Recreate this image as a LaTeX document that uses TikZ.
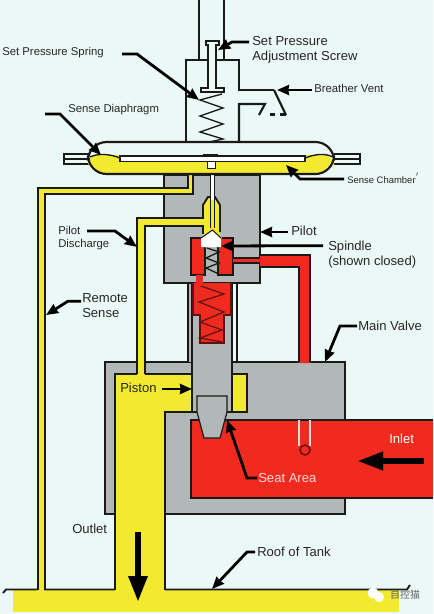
\documentclass[tikz,border=0pt]{standalone}
\usepackage{fontspec}
\setmainfont{Liberation Sans}
\newfontfamily\cjkfont{Noto Sans CJK SC}
\usetikzlibrary{arrows.meta, calc}
\definecolor{tankbg}{HTML}{EBF9F6}
\definecolor{sensey}{HTML}{F2EA2E}
\definecolor{valvegray}{HTML}{B2B8B8}
\definecolor{inletred}{HTML}{F02A1E}
\definecolor{dkline}{HTML}{1A1A1A}
\tikzset{
  outline/.style={dkline, line width=1.4pt},
  leader/.style={black, line width=2.1pt, -{Stealth[length=9pt, width=7.5pt, inset=0.5pt]}},
  lbl/.style={text=black!85, font=\fontsize{8.5}{9.75}\selectfont, anchor=west, inner sep=0pt, align=left},
  biglbl/.style={lbl, font=\fontsize{9.8}{11.25}\selectfont},
}

\begin{document}
\begin{tikzpicture}[x=0.75pt, y=-0.75pt]

% Background
\fill[tankbg] (0,0) rectangle (433,614);
\useasboundingbox (0,0) rectangle (433,614);

% ============================================================
% Roof of tank and outlet
% ============================================================
\fill[sensey] (13,590) rectangle (399,612);
\fill[sensey] (115,412) rectangle (165,592);
\draw[outline] (3,593) -- (6,589.5) -- (37,589.5) (44,589.5) -- (115,589.5) (165,589.5) -- (407,589.5) -- (410,585);

% ============================================================
% Main valve body
% ============================================================
\fill[valvegray] (105,362) rectangle (345,514);
\draw[outline] (115,514) -- (105,514) -- (105,362) -- (345,362) -- (345,514) -- (165,514);

% Piston chamber and outlet
\fill[sensey] (115,374) rectangle (247,412);
\fill[sensey] (115,412) rectangle (165,592);
\draw[outline] (115,589.5) -- (115,374) -- (137,374) (145,374) -- (247,374) -- (247,412) -- (165,412) -- (165,589.5);

% Inlet
\fill[inletred] (191,420) rectangle (433,498);
\draw[outline, line width=1.6pt] (433,420) -- (191,420) -- (191,498) -- (433,498);
\draw[white!85!red, line width=0.8pt] (299,420) -- (299,446) (310,420) -- (310,446);
\draw[dkline!60!red, line width=1.2pt] (305,450) circle (5);

% Spindle column
\fill[valvegray] (188,283) rectangle (192,362);
\fill[valvegray] (192,283) rectangle (232,412);
\draw[outline] (192,283) -- (192,412) -- (197,412) (232,283) -- (232,412) -- (227,412);
\draw[outline] (188,283) -- (188,362) (237,283) -- (237,362);

% Piston and seat plug
\draw[outline, fill=valvegray, line width=0.9pt] (197,412) -- (197,396) -- (227,396) -- (227,412) -- (220,438) -- (204,438) -- cycle;

% ============================================================
% Pilot block
% ============================================================
\fill[valvegray] (164,175) rectangle (260,283);
\draw[outline] (164,175) -- (164,283) -- (260,283) -- (260,175);
\draw[dkline, line width=2pt] (164,175) -- (260,175);

% Remote sense line
\fill[sensey] (38,188) -- (188,188) -- (188,175) -- (193,175) -- (193,194) -- (45,194) -- (45,590) -- (38,590) -- cycle;
\draw[outline] (38,589.5) -- (38,188) -- (188,188) -- (188,175) (193,175) -- (193,194) -- (45,194) -- (45,589.5);

% Pilot discharge line
\fill[sensey] (137,374) -- (137,218) -- (203,218) -- (203,205) -- (208,197) -- (215,197) -- (220,205) -- (220,238) -- (203,238) -- (203,226) -- (145,226) -- (145,374) -- cycle;
\draw[outline] (137,374) -- (137,218) -- (203,218) -- (203,205) -- (208,197) -- (215,197) -- (220,205) -- (220,232);
\draw[outline] (145,374) -- (145,226) -- (203,226) -- (203,234);

% Red passages around the spindle
\fill[inletred] (191,238) rectangle (205,275);
\fill[inletred] (218,238) rectangle (233,275);
\draw[outline, line width=1pt] (205,247) -- (205,275) -- (191,275) -- (191,238) -- (202,238);
\draw[outline, line width=1pt] (222,238) -- (233,238) -- (233,275) -- (218,275) -- (218,247);

% Pilot spindle
\fill[white] (201,238) -- (212.5,230) -- (221,238) -- (221,247) -- (201,247) -- cycle;
\draw[outline, line width=0.8pt] (201,238) -- (212.5,230) -- (221,238);
\draw[white, line width=2.4pt] (212.5,161) -- (212.5,200);
\draw[outline, line width=0.8pt] (210.5,168) -- (210.5,228) (214.5,168) -- (214.5,228);

% Supply line to the main valve
\fill[inletred] (233,258) -- (260,258) -- (260,255) -- (310,255) -- (310,363) -- (299,363) -- (299,267) -- (260,267) -- (260,263) -- (233,263) -- cycle;
\draw[outline] (260,255) -- (310,255) -- (310,362) (299,362) -- (299,267) -- (260,267);
\draw[outline, line width=0.8pt] (233,258) -- (260,258) (233,263) -- (260,263);

% Pilot spring
\draw[dkline, line width=1pt] (207,248) -- (219,252) -- (206,258) -- (219,263) -- (206,268) -- (219,274);

% Red spring chamber
\fill[inletred] (196,275) rectangle (203,284);
\fill[inletred] (193,283) -- (231,283) -- (231,315) -- (224,315) -- (224,343) -- (200,343) -- (200,315) -- (193,315) -- cycle;
\draw[dkline!70!red, line width=0.9pt] (193,283) -- (193,315) -- (200,315) -- (200,343) -- (224,343) -- (224,315) -- (231,315) -- (231,283);
\draw[dkline!70!red, line width=0.9pt] (201,286) -- (224,294) -- (199,302) -- (224,312) -- (200,322) -- (222,330) -- (200,338) -- (222,342);

% ============================================================
% Bonnet and sense chamber
% ============================================================
\draw[outline, line width=1.6pt] (199,60) -- (199,0) (224,0) -- (224,60);
\draw[outline, line width=1.6pt] (186,142) -- (186,60) -- (239,60) -- (239,90) -- (274,90);
\draw[outline, line width=1.6pt] (239,142) -- (239,104) -- (265,104) -- (259,115);
\draw[outline, line width=1.6pt] (274,90) -- (286,115);
\draw[outline, line width=1.6pt] (270,114.5) -- (275,114.5) (280,114.5) -- (286,114.5);

% Adjustment screw
\draw[outline, fill=tankbg, line width=1pt] (206,41) -- (219,41) -- (219,45) -- (216,45) -- (216,88) -- (224,88) -- (224,92) -- (201,92) -- (201,88) -- (208,88) -- (208,45) -- (206,45) -- cycle;

% Set pressure spring
\draw[dkline, line width=1pt] (222,94) -- (200,100) -- (223,108) -- (200,116) -- (223,124) -- (200,132) -- (223,139) -- (200,144) -- (223,152) -- (202,155);

% Side stubs
\draw[outline, line width=1.4pt, fill=tankbg] (90,154) -- (64,154) -- (64,164) -- (90,164) (64,159) -- (90,159);
\draw[outline, line width=1.4pt, fill=tankbg] (334,154) -- (360,154) -- (360,164) -- (334,164) (334,159) -- (360,159);

% Sense chamber housing
\fill[sensey, rounded corners=14] (88,150) rectangle (334,174);
\fill[tankbg] (88,142) rectangle (334,150);
\fill[tankbg] (100,143) -- (322,143) -- (332,155) -- (305,155) -- (305,161) -- (120,161) -- (118,155) -- (90,155) -- cycle;
\draw[outline, line width=1.6pt, rounded corners=14] (88,142) rectangle (334,174);
\draw[outline, line width=1pt] (90,157) .. controls (98,153) and (110,154) .. (120,158);
\draw[outline, line width=1pt] (333,157) .. controls (325,153) and (315,154) .. (305,158);

% Diaphragm plate
\draw[outline, fill=white, line width=1pt] (120,156) rectangle (305,161.5);
\draw[dkline, line width=2pt] (203,155) -- (218,155);
\fill[white] (207,161) rectangle (215,168);
\draw[outline, line width=0.5pt] (207,161) rectangle (215,168);

% ============================================================
% Big flow arrows
% ============================================================
\coordinate (inletend) at (424,461);
\coordinate (inlettip) at (357,461);
\coordinate (outletend) at (138,532);
\coordinate (outlettip) at (138,602);
\draw[black, line width=4.5pt, -{Stealth[length=19.5pt, width=12.75pt, inset=0pt]}] (inletend) -- (inlettip);
\draw[black, line width=4.5pt, -{Stealth[length=19.5pt, width=13.5pt, inset=0pt]}] (outletend) -- (outlettip);

% ============================================================
% Labels and leaders
% ============================================================
\node[lbl] (spring) at (2,53) {Set Pressure Spring};
\node[biglbl] (screw) at (252,49.5) {Set Pressure\\Adjustment Screw};
\node[lbl] (vent) at (314,88) {Breather Vent};
\node[lbl] (diaphragm) at (68,110) {Sense Diaphragm};
\node[lbl, font=\fontsize{7.1}{8}\selectfont] (chamber) at (347,178) {Sense Chamber$^{'}$};
\node[lbl] (discharge) at (58,238.5) {Pilot\\Discharge};
\node[biglbl] (remote) at (82,305.5) {Remote\\Sense};
\node[biglbl] (pilot) at (291,231) {Pilot};
\node[biglbl] (spindle) at (328,254.5) {Spindle\\(shown closed)};
\node[biglbl] (mainvalve) at (358,326) {Main Valve};
\node[biglbl] (piston) at (120,388) {Piston};
\node[biglbl, text=white] (inlet) at (389,439) {Inlet};
\node[biglbl, text=white!85!red] (seat) at (258,478) {Seat Area};
\node[biglbl] (outlet) at (72,529) {Outlet};
\node[biglbl] (roof) at (257,552) {Roof of Tank};

\coordinate (springend) at (122,54);
\coordinate (springtip) at (199,100);
\coordinate (screwend) at (249,42);
\coordinate (screwtip) at (218,50);
\coordinate (ventend) at (312,90);
\coordinate (venttip) at (277,90);
\coordinate (diaend) at (45,114);
\coordinate (diatip) at (101,155);
\coordinate (chamberend) at (344,179);
\coordinate (chambertip) at (286,165);
\coordinate (dischargeend) at (87,231);
\coordinate (dischargetip) at (137,247);
\coordinate (remotetip) at (46,315);
\coordinate (pilottip) at (260,232);
\coordinate (spindletip) at (221,246);
\coordinate (valveend) at (357,326);
\coordinate (valvetip) at (325,362);
\coordinate (pistontip) at (192,389);
\coordinate (seattip) at (227,420);
\coordinate (rooftip) at (212,589);

\draw[leader] (springend) -- ++(15,0) -- (springtip);
\draw[leader] (screwend) -- ++(-17,0) -- (screwtip);
\draw[leader] (ventend) -- (venttip);
\draw[leader] (diaend) -- ++(15,0) -- (diatip);
\draw[leader] (chamberend) -- ++(-44,0) -- (chambertip);
\draw[leader] (dischargeend) -- ++(28,0) -- (dischargetip);
\draw[leader] (remote.north west) ++(-1,8) -- ++(-13,0) -- (remotetip);
\draw[leader] (pilot.west) ++(-3,1) -- (pilottip);
\draw[leader] (spindle.north west) ++(-5,5) -- (spindletip);
\draw[leader] (valveend) -- ++(-17,0) -- (valvetip);
\draw[leader] (piston.east) ++(5,1) -- (pistontip);
\draw[leader] (seat.west) ++(-1,0) -- ++(-10,0) -- (seattip);
\draw[leader] (roof.west) ++(-2,0) -- ++(-8,0) -- (rooftip);

% Watermark
\fill[white] (373,593) circle (5.5);
\fill[white] (379,597) circle (5);
\node[text=black!60, font=\cjkfont\fontsize{7.5}{9}\selectfont, inner sep=0pt] (mark) at (405,595) {自控猫};

\end{tikzpicture}
\end{document}
